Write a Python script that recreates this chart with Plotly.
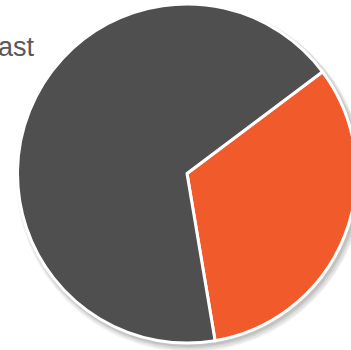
import plotly.graph_objects as go

labels = ["Forecast", "Actual"]
values = [32.6, 67.4]
colors = ["#F15B2C", "#4F4F4F"]
title_text = "Forecast"

W, H = 370, 360
cx, cy, r = 187.0, 173.5, 169.5  # pie geometry in px

def dom(cx, cy, r):
    return dict(x=[(cx - r) / W, (cx + r) / W], y=[(H - cy - r) / H, (H - cy + r) / H])

fig = go.Figure()

# soft drop shadow built from stacked translucent pies
for dx, dy, dr, a in [(3, 4.5, 4.5, 0.05), (3, 4, 3.5, 0.06), (2.5, 3, 2.5, 0.07), (2, 2.5, 1.5, 0.08)]:
    fig.add_trace(go.Pie(values=[1], marker=dict(colors=[f"rgba(0,0,0,{a})"], line=dict(width=0)),
                         textinfo="none", hoverinfo="skip", showlegend=False, sort=False,
                         domain=dom(cx + dx, cy + dy, r + dr)))

fig.add_trace(go.Pie(labels=labels, values=values, sort=False, direction="clockwise", rotation=53.1,
                     marker=dict(colors=colors, line=dict(color="white", width=3)),
                     textinfo="none", hoverinfo="label+percent", showlegend=False,
                     domain=dom(cx, cy, r)))

fig.add_annotation(text=title_text, xref="paper", yref="paper", x=37 / W, y=(H - 47) / H,
                   xanchor="right", yanchor="middle", showarrow=False,
                   font=dict(family="Liberation Sans, Arial, sans-serif", size=27, color="#595959"))

fig.update_layout(width=W, height=H, margin=dict(l=0, r=0, t=0, b=0),
                  paper_bgcolor="white", plot_bgcolor="white")

fig.write_html("out.html", config={"displayModeBar": False},
               post_script="document.body.style.margin='0';document.body.style.overflow='hidden';document.documentElement.style.overflow='hidden';")
